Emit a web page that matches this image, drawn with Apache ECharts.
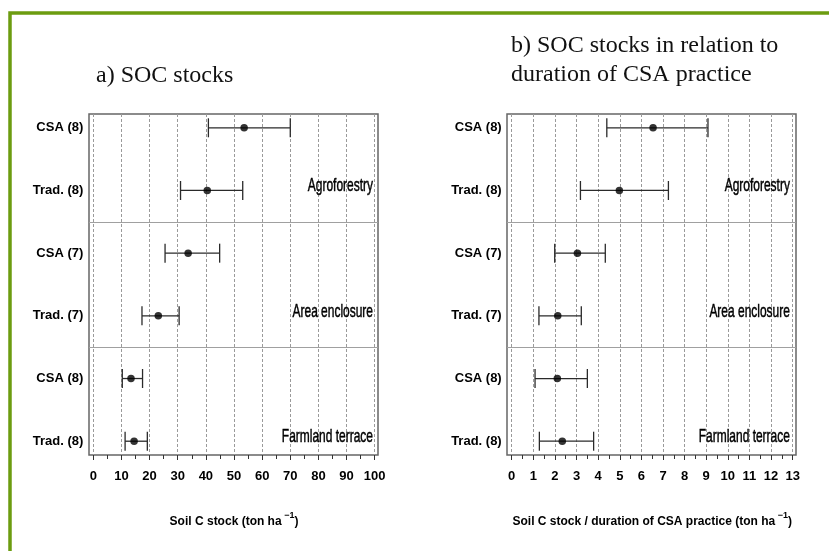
<!DOCTYPE html>
<html>
<head>
<meta charset="utf-8">
<script src="https://cdn.jsdelivr.net/npm/echarts@6/dist/echarts.min.js"></script>
<style>
html,body{margin:0;padding:0;background:#fff;}
#c{width:829px;height:551px;}
</style>
</head>
<body>
<div id="c"></div>
<script>
// ---- data ----
const rowLabels = ['CSA (8)', 'Trad. (8)', 'CSA (7)', 'Trad. (7)', 'CSA (8)', 'Trad. (8)'];
const rowIndex = [0, 1, 2, 3, 4, 5];
const groupNames = ['Agroforestry', 'Area enclosure', 'Farmland terrace'];
const groupRows = [0.92, 2.93, 4.93];
const groupBreaks = [1.5, 3.5];

const socMean = [53.6, 40.5, 33.7, 23.1, 13.4, 14.5];
const socLow  = [40.9, 31.0, 25.5, 17.3, 10.3, 11.3];
const socHigh = [70.0, 53.1, 44.9, 30.5, 17.5, 19.2];

const durMean = [6.54, 4.98, 3.04, 2.13, 2.11, 2.34];
const durLow  = [4.40, 3.18, 1.99, 1.26, 1.08, 1.28];
const durHigh = [9.08, 7.25, 4.33, 3.22, 3.50, 3.79];

const socAxis = {min: 0, max: 100, interval: 10};
const durAxis = {min: 0, max: 13, interval: 1};

const titleA = 'a) SOC stocks';
const titleB = 'b) SOC stocks in relation to\nduration of CSA practice';
const xNameA = '{a|Soil C stock (ton ha}{s| \u22121}{a|)}';
const xNameB = '{a|Soil C stock / duration of CSA practice (ton ha}{s| \u22121}{a|)}';

// ---- styles ----
const SANS = '"Liberation Sans", Arial, Helvetica, sans-serif';
const SERIF = '"Liberation Serif", "Times New Roman", serif';
const YMIN = -0.22, YMAX = 5.22;

const chart = echarts.init(document.getElementById('c'), null, {renderer: 'canvas'});

function errRender(params, api) {
  const lo = api.coord([api.value(0), api.value(2)]);
  const hi = api.coord([api.value(1), api.value(2)]);
  const h = 9.5;
  const st = {stroke: '#2a2a2a', lineWidth: 1.3};
  return {
    type: 'group',
    children: [
      {type: 'line', shape: {x1: lo[0], y1: lo[1], x2: hi[0], y2: hi[1]}, style: st},
      {type: 'line', shape: {x1: lo[0], y1: lo[1] - h, x2: lo[0], y2: lo[1] + h}, style: st},
      {type: 'line', shape: {x1: hi[0], y1: hi[1] - h, x2: hi[0], y2: hi[1] + h}, style: st}
    ]
  };
}

function groupLabelRender(params, api) {
  const p = api.coord([api.value(0), api.value(1)]);
  return {
    type: 'text', x: p[0], y: p[1], scaleX: 0.63, scaleY: 1,
    style: {
      text: groupNames[params.dataIndex], x: 0, y: 0,
      align: 'right', verticalAlign: 'middle',
      fontFamily: SANS, fontSize: 19, fill: '#000',
      stroke: '#000', lineWidth: 0.5
    }
  };
}

function valueXAxis(gridIndex, ax, name, minorSplit) {
  return {
    type: 'value', gridIndex: gridIndex, position: 'bottom',
    min: ax.min, max: ax.max, interval: ax.interval,
    axisLine: {show: false, onZero: false},
    axisTick: {show: true, length: 5, lineStyle: {color: '#333', width: 1}},
    minorTick: {show: true, splitNumber: minorSplit, length: 4, lineStyle: {color: '#333', width: 1}},
    axisLabel: {show: true, margin: 15, fontFamily: SANS, fontWeight: 'bold', fontSize: 13, color: '#000'},
    splitLine: {show: true, lineStyle: {color: '#9a9a9a', type: [3, 2], width: 1}},
    minorSplitLine: {show: false},
    name: name, nameLocation: 'middle', nameGap: 56,
    nameTextStyle: {
      rich: {
        a: {fontFamily: SANS, fontWeight: 'bold', fontSize: 12, color: '#000', lineHeight: 17, verticalAlign: 'bottom'},
        s: {fontFamily: SANS, fontWeight: 'bold', fontSize: 9, color: '#000', lineHeight: 17, verticalAlign: 'top'}
      }
    }
  };
}

function rowYAxis(gridIndex) {
  return {
    type: 'value', gridIndex: gridIndex, inverse: true,
    min: YMIN, max: YMAX,
    axisLine: {show: false}, axisTick: {show: false}, splitLine: {show: false},
    axisLabel: {
      show: true, customValues: rowIndex, margin: 10,
      fontFamily: SANS, fontWeight: 'bold', fontSize: 13, color: '#000',
      formatter: function (v) { return rowLabels[Math.round(v)] || ''; }
    }
  };
}

function hiddenAxes(gridIndex) {
  return {
    x: {type: 'value', gridIndex: gridIndex, min: 0, max: 1, show: false},
    y: {type: 'value', gridIndex: gridIndex, min: YMIN, max: YMAX, inverse: true, show: false}
  };
}

const hA = hiddenAxes(0), hB = hiddenAxes(2);

function separators(xi, yi) {
  return {
    type: 'scatter', xAxisIndex: xi, yAxisIndex: yi, symbolSize: 0, silent: true,
    data: [[0.5, 0]],
    markLine: {
      silent: true, symbol: ['none', 'none'], label: {show: false},
      lineStyle: {color: '#a0a0a0', type: 'solid', width: 1},
      data: groupBreaks.map(function (b) { return {yAxis: b}; })
    }
  };
}

function errSeries(xi, yi, lows, highs) {
  return {
    type: 'custom', xAxisIndex: xi, yAxisIndex: yi, silent: true,
    renderItem: errRender, encode: {x: [0, 1], y: 2},
    data: rowIndex.map(function (r) { return [lows[r], highs[r], r]; }), z: 3
  };
}

function pointSeries(xi, yi, means) {
  return {
    type: 'scatter', xAxisIndex: xi, yAxisIndex: yi, silent: true,
    symbol: 'circle', symbolSize: 7.5, itemStyle: {color: '#000'},
    data: rowIndex.map(function (r) { return [means[r], r]; }), z: 4
  };
}

function groupLabelSeries(xi, yi, xPos) {
  return {
    type: 'custom', xAxisIndex: xi, yAxisIndex: yi, silent: true,
    renderItem: groupLabelRender, encode: {x: 0, y: 1},
    data: groupNames.map(function (g, i) { return [xPos, groupRows[i]]; }), z: 5
  };
}

const option = {
  backgroundColor: '#ffffff',
  animation: false,
  title: [
    {text: titleA, left: 96, top: 61, padding: 0,
     textStyle: {fontFamily: SERIF, fontWeight: 'normal', fontSize: 24, color: '#111', lineHeight: 29}},
    {text: titleB, left: 511, top: 31, padding: 0,
     textStyle: {fontFamily: SERIF, fontWeight: 'normal', fontSize: 24, color: '#111', lineHeight: 29}}
  ],
  graphic: [
    {type: 'rect', shape: {x: 10, y: 13, width: 900, height: 700},
     style: {fill: 'none', stroke: '#6c9c10', lineWidth: 3.5}, z: 0}
  ],
  grid: [
    {left: 89, top: 114, width: 289, height: 341, show: true, borderColor: '#666', borderWidth: 1.5, backgroundColor: 'transparent'},
    {left: 93.3, top: 114, width: 281.4, height: 341},
    {left: 507, top: 114, width: 289, height: 341, show: true, borderColor: '#666', borderWidth: 1.5, backgroundColor: 'transparent'},
    {left: 511.7, top: 114, width: 281, height: 341}
  ],
  xAxis: [
    hA.x,
    valueXAxis(1, socAxis, xNameA, 2),
    hB.x,
    valueXAxis(3, durAxis, xNameB, 2)
  ],
  yAxis: [
    hA.y,
    rowYAxis(1),
    hB.y,
    rowYAxis(3)
  ],
  series: [
    separators(0, 0),
    separators(2, 2),
    errSeries(1, 1, socLow, socHigh),
    pointSeries(1, 1, socMean),
    groupLabelSeries(1, 1, 99.4),
    errSeries(3, 3, durLow, durHigh),
    pointSeries(3, 3, durMean),
    groupLabelSeries(3, 3, 12.87)
  ]
};
chart.setOption(option);
</script>
</body>
</html>
